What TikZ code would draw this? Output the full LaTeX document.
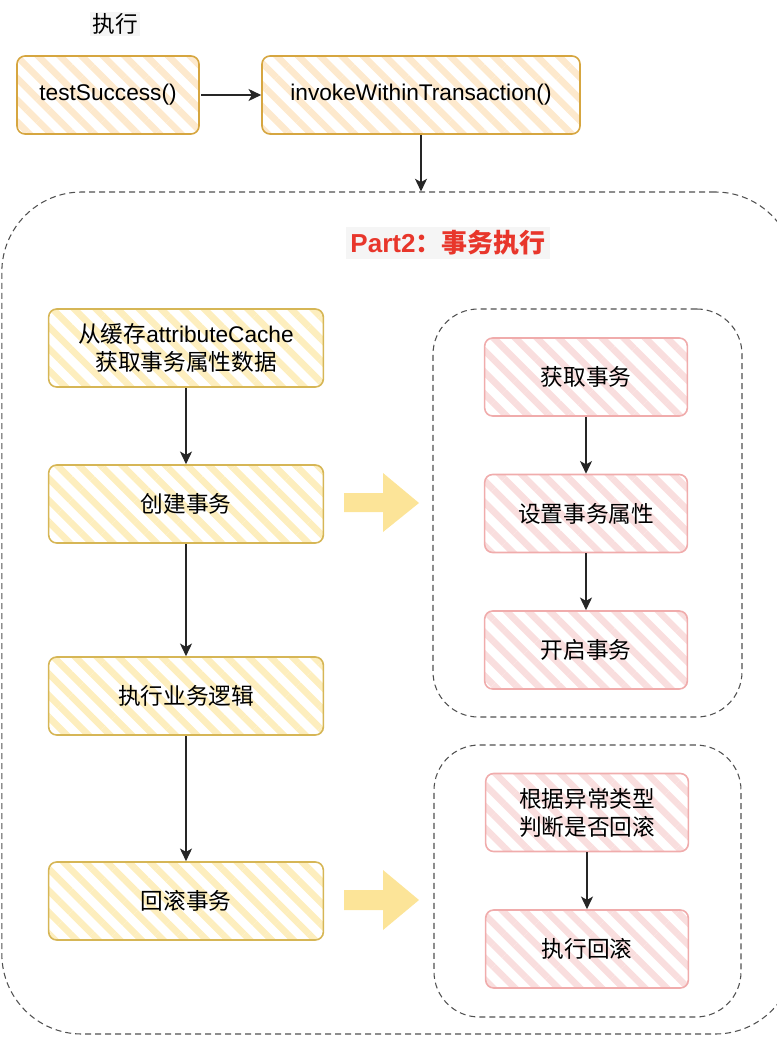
\documentclass[tikz,border=0pt]{standalone}
\usepackage{fontspec}
\setmainfont{Liberation Sans}
\newfontfamily\cjk{Noto Sans CJK SC}
\usetikzlibrary{arrows.meta,patterns.meta}

\definecolor{goldline}{RGB}{214,166,64}
\definecolor{goldhatch}{RGB}{253,233,205}
\definecolor{yelline}{RGB}{214,182,86}
\definecolor{yelhatch}{RGB}{253,238,190}
\definecolor{pinkline}{RGB}{240,172,172}
\definecolor{pinkhatch}{RGB}{249,222,222}
\definecolor{dashgray}{RGB}{80,80,80}
\definecolor{titlebg}{RGB}{245,245,245}
\definecolor{partred}{RGB}{232,54,43}
\definecolor{bigarrow}{RGB}{252,228,152}

\tikzset{
  hatchbox/.style={rounded corners=6pt, line width=1.2pt, inner sep=0pt, minimum height=58.5pt,
    align=center, font=\fontsize{17}{21}\selectfont},
  topbox/.style={hatchbox, draw=goldline, pattern={Lines[angle=-45,distance=11.5pt,line width=5pt]}, pattern color=goldhatch},
  stepbox/.style={hatchbox, minimum width=206pt, draw=yelline, pattern={Lines[angle=-45,distance=11.5pt,line width=5pt]}, pattern color=yelhatch},
  pinkbox/.style={hatchbox, minimum width=152pt, draw=pinkline, pattern={Lines[angle=-45,distance=11.5pt,line width=5pt]}, pattern color=pinkhatch},
  group/.style={draw=dashgray, line width=0.8pt, dash pattern=on 4.5pt off 3pt, inner sep=0pt},
  flow/.style={-{Stealth[length=9.5pt,width=9pt,inset=2.5pt]}, line width=1.1pt, black!85}
}

\begin{document}
\begin{tikzpicture}[x=0.75pt,y=0.75pt,yscale=-1,xscale=1]
  \useasboundingbox (0,0) rectangle (776,1037);

  % Dashed groups
  \draw (398.5,613) node (part) [group, minimum width=595pt, minimum height=631.5pt, rounded corners=60pt] {};
  \draw (587.5,513) node (getgrp) [group, minimum width=231.75pt, minimum height=306pt, rounded corners=34pt] {};
  \draw (587.5,881) node (rbgrp) [group, minimum width=230.25pt, minimum height=204pt, rounded corners=34pt] {};

  % Text Node
  \draw (115,24) node (exec) [fill=titlebg, inner sep=1.5pt, font=\fontsize{17}{20}\selectfont] {\cjk 执行};
  \draw (448,243) node (part2) [fill=titlebg, inner sep=3pt, text=partred, font=\bfseries\fontsize{19.5}{22}\selectfont] {Part2{\cjk ：事务执行}};

  % Top row
  \draw (108,95) node (test) [topbox, minimum width=136.5pt] {testSuccess()};
  \draw (421,95) node (invoke) [topbox, minimum width=238.5pt] {invokeWithinTransaction()};

  % Left column
  \draw (186,348) node (cache) [stepbox] {{\cjk 从缓存}attributeCache\\{\cjk 获取事务属性数据}};
  \draw (186,504) node (create) [stepbox] {\cjk 创建事务};
  \draw (186,696) node (logic) [stepbox] {\cjk 执行业务逻辑};
  \draw (186,901) node (rollback) [stepbox] {\cjk 回滚事务};

  % Right column
  \draw (586,377) node (gettx) [pinkbox] {\cjk 获取事务};
  \draw (586,513.5) node (setattr) [pinkbox] {\cjk 设置事务属性};
  \draw (586,650) node (begintx) [pinkbox] {\cjk 开启事务};
  \draw (587,812.5) node (judge) [pinkbox] {{\cjk 根据异常类型}\\{\cjk 判断是否回滚}};
  \draw (587,949) node (dorb) [pinkbox] {\cjk 执行回滚};

  %Straight Lines
  \draw [flow] (test) ++(70pt,0) coordinate (testout) (testout) -- (invoke);
  \draw [flow] (invoke) -- (invoke |- part.north);
  \draw [flow] (cache) -- (create);
  \draw [flow] (create) -- (logic);
  \draw [flow] (logic) -- (rollback);
  \draw [flow] (gettx) -- (setattr);
  \draw [flow] (setattr) -- (begintx);
  \draw [flow] (judge) -- (dorb);

  % Block arrows
  \fill [bigarrow] (344,493) -- (383,493) -- (383,473) -- (419,503) -- (383,532) -- (383,512) -- (344,512) -- cycle;
  \fill [bigarrow] (344,890) -- (383,890) -- (383,870) -- (419,900) -- (383,930) -- (383,910) -- (344,910) -- cycle;
\end{tikzpicture}
\end{document}
